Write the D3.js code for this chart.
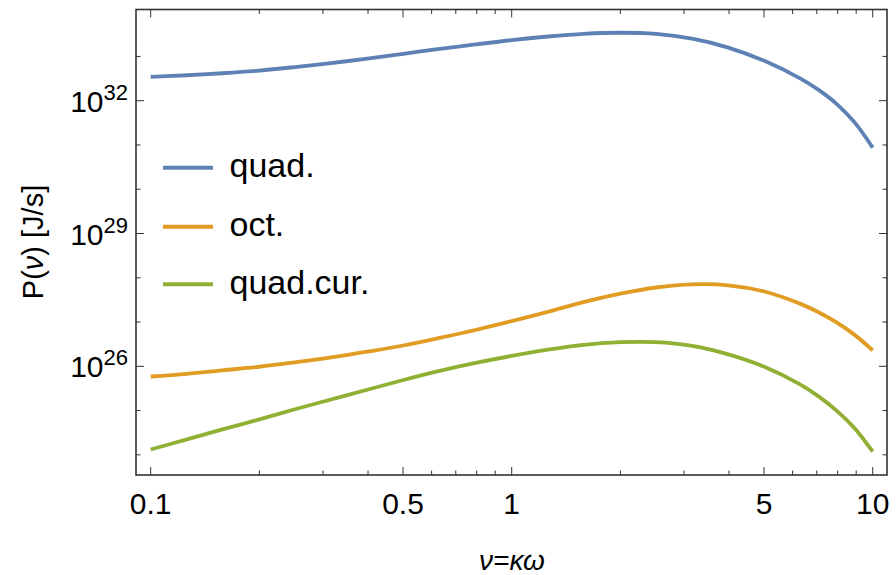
<!DOCTYPE html>
<html>
<head>
<meta charset="utf-8">
<script src="https://cdn.jsdelivr.net/npm/d3@7"></script>
<style>
  html, body { margin: 0; padding: 0; background: #fff; }
  svg { display: block; font-family: "Liberation Sans", Arial, sans-serif; }
</style>
</head>
<body>
<svg id="chart" width="896" height="575"></svg>
<script>
// Frequency grid ν = κω (ten points per decade, denser near the cutoff)
const nu = [0.1, 0.126, 0.158, 0.2, 0.251, 0.316, 0.398, 0.501, 0.631, 0.794,
            1, 1.26, 1.58, 2, 2.51, 3.16, 3.98, 5.01, 6.31, 7.08, 7.94, 8.91, 10];

// Radiated power, stored as log10 of P in J/s
const quadExp    = [32.54, 32.575, 32.62, 32.68, 32.76, 32.85, 32.95, 33.06, 33.17, 33.27,
                    33.37, 33.45, 33.51, 33.535, 33.51, 33.40, 33.20, 32.90, 32.50, 32.245, 31.93, 31.51, 30.94];
const octExp     = [25.77, 25.83, 25.91, 25.99, 26.09, 26.20, 26.33, 26.47, 26.64, 26.82,
                    27.02, 27.23, 27.45, 27.64, 27.78, 27.85, 27.83, 27.69, 27.41, 27.22, 26.99, 26.71, 26.36];
const quadCurExp = [24.12, 24.35, 24.575, 24.80, 25.03, 25.25, 25.47, 25.69, 25.895, 26.075,
                    26.235, 26.375, 26.485, 26.545, 26.545, 26.46, 26.27, 25.99, 25.585, 25.32, 25.00, 24.60, 24.07];

const seriesNames  = ["quad.", "oct.", "quad.cur."];
const seriesColors = ["#5E81B5", "#E19C24", "#8FB032"];
const seriesExps   = [quadExp, octExp, quadCurExp];

// Axis ticks
const xMajorTicks = [0.1, 0.5, 1, 5, 10];
const xTickLabels = ["0.1", "0.5", "1", "5", "10"];
const xMinorTicks = [0.2, 0.3, 0.4, 0.6, 0.7, 0.8, 0.9, 2, 3, 4, 6, 7, 8, 9];
const yMajorExps  = [26, 29, 32];
const yMinorExps  = [24, 25, 27, 28, 30, 31, 33];

const svg = d3.select("#chart");

const frame = { left: 136, right: 887, top: 9.5, bottom: 475 };

const x = d3.scaleLog().domain([0.1, 10]).range([150.7, 872.7]);
const y = d3.scaleLog().domain([1e26, 1e32]).range([366.3, 100.7]);

// Curves
const line = d3.line()
  .x(d => x(d[0]))
  .y(d => y(d[1]))
  .curve(d3.curveCatmullRom.alpha(0.5));

const plot = svg.append("g");
seriesExps.forEach((exps, i) => {
  const pts = nu.map((v, k) => [v, Math.pow(10, exps[k])]);
  plot.append("path")
    .attr("d", line(pts))
    .attr("fill", "none")
    .attr("stroke", seriesColors[i])
    .attr("stroke-width", 3.8)
    .attr("stroke-linecap", "butt")
    .attr("stroke-linejoin", "round");
});

// Frame
const axisColor = "#333";
svg.append("rect")
  .attr("x", frame.left).attr("y", frame.top)
  .attr("width", frame.right - frame.left)
  .attr("height", frame.bottom - frame.top)
  .attr("fill", "none")
  .attr("stroke", axisColor)
  .attr("stroke-width", 1.6);

const ticks = svg.append("g").attr("stroke", axisColor).attr("stroke-width", 1);
const MAJ = 8, MIN = 4.5;

function xTick(v, len) {
  const px = x(v);
  ticks.append("line").attr("x1", px).attr("x2", px)
    .attr("y1", frame.bottom).attr("y2", frame.bottom - len);
  ticks.append("line").attr("x1", px).attr("x2", px)
    .attr("y1", frame.top).attr("y2", frame.top + len);
}
function yTick(e, len) {
  const py = y(Math.pow(10, e));
  ticks.append("line").attr("y1", py).attr("y2", py)
    .attr("x1", frame.left).attr("x2", frame.left + len);
  ticks.append("line").attr("y1", py).attr("y2", py)
    .attr("x1", frame.right).attr("x2", frame.right - len);
}
xMajorTicks.forEach(v => xTick(v, MAJ));
xMinorTicks.forEach(v => xTick(v, MIN));
yMajorExps.forEach(e => yTick(e, MAJ));
yMinorExps.forEach(e => yTick(e, MIN));

// Tick labels
xMajorTicks.forEach((v, i) => {
  svg.append("text")
    .attr("x", x(v)).attr("y", 513.5)
    .attr("text-anchor", "middle")
    .attr("font-size", 30)
    .attr("fill", "#000")
    .text(xTickLabels[i]);
});

yMajorExps.forEach(e => {
  const py = y(Math.pow(10, e));
  const t = svg.append("text")
    .attr("x", 128).attr("y", py + 11)
    .attr("text-anchor", "end")
    .attr("fill", "#000")
    .attr("font-size", 30);
  t.append("tspan").text("10");
  t.append("tspan").attr("dy", -12).attr("font-size", 22).text(String(e));
});

// Axis titles
svg.append("text")
  .attr("x", 512).attr("y", 570)
  .attr("text-anchor", "middle")
  .attr("font-size", 28)
  .attr("font-style", "italic")
  .attr("fill", "#000")
  .text("ν=κω");

const yt = svg.append("text")
  .attr("transform", "translate(43,242) rotate(-90)")
  .attr("text-anchor", "middle")
  .attr("font-size", 29)
  .attr("fill", "#000");
yt.append("tspan").text("P(");
yt.append("tspan").attr("font-style", "italic").text("ν");
yt.append("tspan").text(") [J/s]");

// Legend
const legendY = [167.7, 226.7, 284.3];
seriesNames.forEach((name, i) => {
  svg.append("line")
    .attr("x1", 163).attr("x2", 213)
    .attr("y1", legendY[i]).attr("y2", legendY[i])
    .attr("stroke", seriesColors[i])
    .attr("stroke-width", 4);
  svg.append("text")
    .attr("x", 229.5).attr("y", legendY[i] + 9.5)
    .attr("font-size", 34)
    .attr("fill", "#000")
    .text(name);
});
</script>
</body>
</html>
